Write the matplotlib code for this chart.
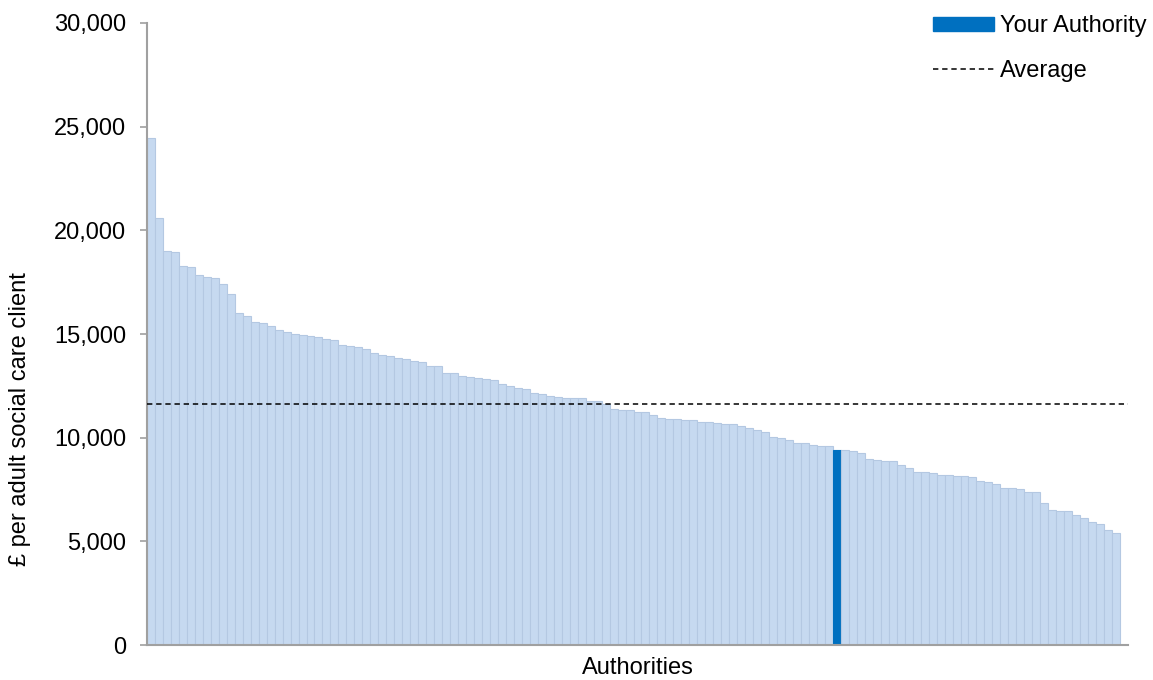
import numpy as np
import matplotlib.pyplot as plt
from matplotlib.patches import Patch
from matplotlib.lines import Line2D
from matplotlib.ticker import FuncFormatter, MultipleLocator

plt.rcParams['font.family'] = ['Liberation Sans', 'DejaVu Sans']

# spend per adult social care client, sorted high -> low (one bar per authority)
values = [24450, 20600, 18990, 18940, 18260, 18220, 17860, 17750, 17690, 17400,
          16910, 16000, 15870, 15590, 15510, 15400, 15210, 15080, 15000, 14940,
          14900, 14860, 14750, 14730, 14450, 14440, 14360, 14260, 14070, 14000,
          13940, 13830, 13780, 13710, 13670, 13440, 13440, 13140, 13140, 12970,
          12930, 12890, 12830, 12780, 12590, 12480, 12400, 12350, 12150, 12110,
          12010, 11950, 11930, 11900, 11900, 11770, 11750, 11610, 11380, 11350,
          11330, 11240, 11240, 11090, 10950, 10920, 10880, 10870, 10870, 10770,
          10740, 10690, 10680, 10640, 10580, 10470, 10390, 10260, 10050, 10000,
          9890, 9730, 9730, 9650, 9610, 9580, 9410, 9390, 9360, 9280,
          8960, 8940, 8860, 8860, 8700, 8540, 8360, 8330, 8310, 8200,
          8180, 8170, 8150, 8100, 7930, 7860, 7770, 7570, 7570, 7540,
          7400, 7400, 6870, 6510, 6450, 6450, 6290, 6110, 5920, 5840,
          5560, 5400]
your_authority = 86      # index of the highlighted bar
average = 11620
n_slots = 123            # one empty category at the end, as in the source

bar_col = '#C6D9F0'
edge_col = '#B4C8E2'
hi_col = '#0070C0'
axis_col = '#A0A0A0'
fs = 17

fig = plt.figure(figsize=(11.53, 6.8), dpi=100)
ax = fig.add_axes([147 / 1153, 1 - 645 / 680, (1128 - 147) / 1153, (645 - 23) / 680])

x = np.arange(len(values))
colors = [hi_col if i == your_authority else bar_col for i in x]
edges = [hi_col if i == your_authority else edge_col for i in x]
ax.bar(x, values, width=1.0, color=colors, edgecolor=edges, linewidth=0.8, zorder=2)

ax.axhline(average, color='black', linestyle=(0, (3.5, 2.5)), linewidth=1.1, zorder=3)

ax.set_xlim(-0.5, n_slots - 0.5)
ax.set_ylim(0, 30000)
ax.yaxis.set_major_locator(MultipleLocator(5000))
ax.yaxis.set_major_formatter(FuncFormatter(lambda v, p: f'{int(v):,}'))
ax.set_xticks([])

for s in ['top', 'right']:
    ax.spines[s].set_visible(False)
for s in ['left', 'bottom']:
    ax.spines[s].set_color(axis_col)
    ax.spines[s].set_linewidth(1.5)
ax.tick_params(axis='y', direction='out', length=5, width=1.2, color=axis_col,
               labelsize=fs, pad=10)

ax.set_xlabel('Authorities', fontsize=fs, labelpad=9)
fig.text(20 / 1153, 1 - 419 / 680, '£ per adult social care client', rotation=90,
         fontsize=fs, ha='center', va='center')

handles = [Patch(facecolor=hi_col, edgecolor=hi_col),
           Line2D([], [], color='black', linestyle=(0, (3.5, 2.5)), linewidth=1.1)]
fig.legend(handles, ['Your Authority', 'Average'], loc='upper right',
           bbox_to_anchor=(1.005, 0.995), frameon=False, fontsize=fs,
           handlelength=2.6, handleheight=0.5, handletextpad=0.25,
           labelspacing=0.95, borderaxespad=0.1)

fig.savefig('out.png', dpi=100)
